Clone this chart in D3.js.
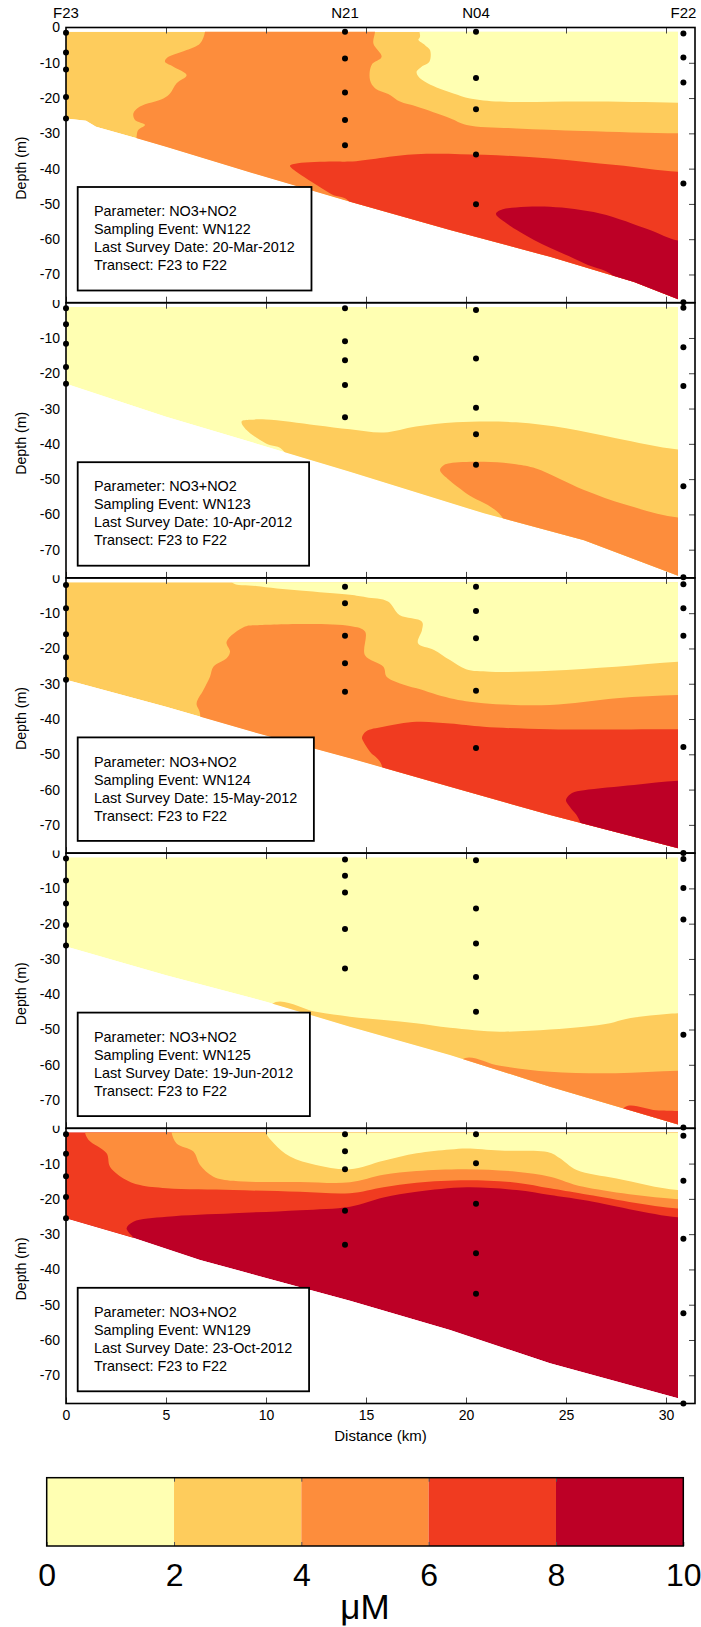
<!DOCTYPE html>
<html>
<head>
<meta charset="utf-8">
<script src="https://cdn.jsdelivr.net/npm/d3@7"></script>
<style>
body{margin:0;background:#fff;}
svg{display:block;font-family:"Liberation Sans",Arial,sans-serif;}
</style>
</head>
<body>
<div id="chart"></div>
<script>
// stations along the transect (km)
const stationNames = ["F23","N21","N04","F22"];
const stationKm = [0, 13.95, 20.5, 30.87];
const xTicks = [0,5,10,15,20,25,30];
const depthTicks = [0,-10,-20,-30,-40,-50,-60,-70];
const levelEdges = [0,2,4,6,8,10];
const levelColors = ["#ffffb2","#fecc5c","#fd8d3c","#f03b20","#bd0026"];
const surfaceDepth = -1.2;

const events = ["WN122","WN123","WN124","WN125","WN129"];
const surveyDates = ["20-Mar-2012","10-Apr-2012","15-May-2012","19-Jun-2012","23-Oct-2012"];

// sample depths per station (F23, N21, N04, F22)
const wn122Casts = [[-1.5,-7.1,-11.9,-19.7,-25.8],[-1.2,-8.8,-18.4,-26.2,-33.4],[-1.2,-14.3,-23.2,-36.0,-50.1],[-1.7,-8.5,-15.6,-44.2,-77.9]];
const wn123Casts = [[-1.6,-6.1,-11.6,-18.2,-23.0],[-1.6,-10.9,-16.3,-23.3,-32.5],[-2.1,-15.8,-29.8,-37.3,-45.9],[-1.4,-12.6,-23.6,-52.0,-77.8]];
const wn124Casts = [[-2.0,-8.6,-16.0,-22.5,-28.9],[-2.5,-7.2,-16.4,-24.2,-32.3],[-2.5,-9.4,-17.1,-32.0,-48.2],[-1.8,-8.6,-16.4,-47.9,-78.0]];
const wn125Casts = [[-1.5,-7.8,-14.3,-20.4,-26.2],[-1.8,-6.4,-11.2,-21.5,-32.7],[-2.0,-15.7,-25.6,-35.1,-45.0],[-1.7,-9.9,-18.8,-51.5,-77.8]];
const wn129Casts = [[-1.7,-7.2,-13.6,-19.5,-25.5],[-1.7,-6.5,-11.6,-23.4,-33.0],[-1.7,-9.9,-21.4,-35.4,-46.9],[-2.1,-14.9,-31.3,-52.4,-78.0]];

// bottom profile [km, depth]
const wn122Bottom = [[0,-25.8],[1.0,-26.4],[1.5,-28.1],[3.5,-31.3],[5.0,-33.8],[9.35,-41.3],[14.2,-49.4],[19.2,-57.4],[24.2,-65.0],[28.4,-72.1],[30.6,-77.0]];
const wn123Bottom = [[0,-23.0],[5.0,-32.3],[10.9,-42.3],[14.2,-47.9],[20.9,-59.7],[25.9,-67.3],[30.6,-77.4]];
const wn124Bottom = [[0,-28.9],[5.0,-36.5],[10.0,-44.7],[14.2,-51.1],[19.2,-59.2],[24.2,-67.2],[30.6,-76.6]];
const wn125Bottom = [[0,-26.5],[5.0,-34.6],[10.0,-42.1],[14.2,-49.2],[19.2,-57.2],[24.2,-66.2],[30.6,-76.9]];
const wn129Bottom = [[0,-25.5],[3.35,-31.0],[6.7,-37.3],[14.2,-48.9],[19.2,-57.2],[24.2,-66.6],[30.6,-76.5]];

// contour bands: [level index, outline in km/depth], painted in order over the base level
const wn122Base = 1;
const wn122Bands = [
  [0, [[17.7,3],[17.7,-2.6],[17.62,-3.5],[17.95,-5.0],[18.2,-6.4],[18.17,-9.7],[17.78,-11.1],[17.53,-12.5],[17.62,-13.9],[17.95,-15.4],[18.53,-17.0],[19.37,-18.7],[20.2,-20.1],[21.7,-21.0],[25.9,-21.0],[30.6,-21.3],[33,-21.3],[33,3]]],
  [2, [[6.95,3],[6.95,-1.2],[6.7,-4.5],[6.03,-6.4],[5.03,-8.7],[4.95,-9.7],[5.37,-11.1],[6.03,-13.5],[5.53,-15.8],[5.2,-18.7],[4.87,-20.1],[3.7,-22.4],[3.37,-24.3],[3.45,-26.2],[3.95,-27.6],[3.62,-29.0],[3.53,-31],[3.53,-95],[33,-95],[33,-30.0],[30.58,-30.0],[25.87,-29.3],[22.53,-28.6],[20.03,-27.6],[19.2,-25.7],[17.53,-22.4],[16.7,-21.0],[16.2,-19.1],[15.45,-17.2],[15.2,-14.9],[15.28,-10.6],[15.78,-8.3],[15.37,-4.5],[15.45,-1.2],[15.45,3]]],
  [3, [[11.2,-39.2],[11.6,-38.5],[13.35,-38.0],[14.2,-38.0],[17.5,-35.9],[20.9,-36.1],[24.2,-37.1],[27.5,-39.0],[30.6,-40.9],[33,-41],[33,-95],[14.8,-95],[14.2,-49.6],[13.3,-47.3],[12.55,-44.7],[11.4,-40.4]]],
  [4, [[21.5,-52.8],[21.8,-51.6],[22.5,-51.0],[24.2,-50.8],[26.7,-52.7],[29.2,-57.4],[30.6,-60.4],[33,-61],[33,-95],[27.8,-95],[27.5,-71.4],[25.9,-66.8],[23.4,-60.2],[21.9,-55.0]]]
];
const wn123Base = 0;
const wn123Bands = [
  [1, [[8.78,-33.7],[9.2,-33.2],[10.0,-33.1],[12.5,-34.7],[14.2,-35.9],[15.9,-36.8],[17.5,-35.1],[19.5,-33.9],[22.5,-33.9],[25.0,-35.6],[27.5,-38.4],[30.6,-41.6],[33,-42],[33,-95],[11.3,-95],[10.9,-42.2],[10.0,-39.9],[9.03,-36.1]]],
  [2, [[18.7,-47.4],[18.9,-46.0],[19.2,-45.5],[20.9,-45.1],[22.5,-45.8],[23.5,-47.0],[25.9,-53.1],[28.0,-57.3],[30.6,-60.9],[33,-61],[33,-95],[22.2,-95],[21.9,-61.6],[20.0,-54.0],[19.0,-49.5]]]
];
const wn124Base = 1;
const wn124Bands = [
  [0, [[8.3,3],[8.3,-1.2],[9.5,-2.3],[11.7,-3.6],[14.2,-4.8],[15.0,-5.5],[16.1,-6.7],[16.67,-10.5],[17.8,-12.4],[17.8,-14.8],[17.6,-18.5],[18.4,-20.4],[19.2,-23.3],[20.0,-25.9],[21.2,-26.6],[24.2,-26.3],[27.5,-25.2],[30.6,-23.8],[33,-23.8],[33,3]]],
  [2, [[8.95,-13.8],[8.03,-18.1],[8.2,-20.9],[8.03,-22.8],[7.37,-25.2],[7.2,-28.0],[6.87,-31.8],[6.53,-35.6],[6.7,-38.4],[6.7,-95],[33,-95],[33,-33.2],[30.58,-33.2],[27.53,-34.1],[24.2,-36.0],[20.87,-35.5],[19.2,-34.1],[17.53,-31.3],[16.7,-29.9],[16.03,-28.0],[15.87,-25.2],[14.95,-21.9],[14.95,-15.2],[14.2,-13.6],[9.5,-13.4]]],
  [3, [[14.8,-45.2],[15.0,-43.5],[15.87,-42.2],[17.53,-40.8],[19.2,-41.3],[20.87,-42.2],[24.2,-42.9],[30.58,-42.9],[33,-43],[33,-95],[16.2,-95],[15.78,-53.0],[15.2,-49.3],[14.87,-46.4]]],
  [4, [[25.0,-63.0],[25.3,-61.0],[25.9,-60.2],[28.4,-58.7],[30.6,-57.5],[33,-57.5],[33,-95],[25.9,-95],[25.7,-69.1],[25.2,-64.9]]]
];
const wn125Base = 0;
const wn125Bands = [
  [1, [[10.3,-42.8],[12.5,-45.0],[14.2,-46.4],[15.9,-47.3],[17.5,-48.2],[19.2,-49.5],[21.7,-50.6],[24.2,-50.0],[25.9,-49.2],[27.2,-48.2],[28.0,-47.0],[29.5,-45.9],[30.6,-45.4],[33,-45.4],[33,-95],[10.3,-95]]],
  [2, [[19.8,-58.6],[21.7,-60.3],[24.2,-62.0],[27.5,-62.4],[30.6,-61.7],[33,-61.7],[33,-95],[19.8,-95]]],
  [3, [[27.9,-72.2],[29.5,-72.9],[30.6,-73.1],[33,-73.2],[33,-95],[27.9,-95]]]
];
const wn129Base = 4;
const wn129Bands = [
  [3, [[-2,3],[33,3],[33,-25.2],[30.58,-25.2],[25.87,-20.3],[24.2,-18.9],[22.53,-17.5],[20.03,-16.7],[17.53,-18.0],[15.87,-19.6],[14.2,-22.2],[11.7,-23.2],[8.37,-24.1],[5.03,-25.1],[3.37,-26.5],[3.03,-28.3],[3.15,-29.6],[3.4,-31.5],[3.4,-95],[-2,-95]]],
  [2, [[0.95,3],[0.95,-1.2],[1.13,-3.3],[2.03,-7.1],[2.2,-10.9],[2.87,-14.2],[3.7,-16.1],[5.03,-17.0],[8.37,-17.5],[11.7,-18.0],[14.2,-18.4],[15.87,-16.7],[17.53,-15.4],[20.03,-14.7],[22.53,-15.4],[24.2,-17.0],[25.87,-18.6],[30.58,-22.7],[33,-22.7],[33,3]]],
  [1, [[5.28,3],[5.28,-1.2],[5.53,-4.3],[6.37,-6.6],[6.7,-10.4],[7.37,-13.7],[8.37,-14.9],[11.7,-15.2],[14.2,-15.3],[15.87,-13.2],[17.53,-12.1],[20.03,-11.6],[22.53,-12.3],[24.2,-13.7],[25.87,-16.6],[30.58,-20.1],[33,-20.1],[33,3]]],
  [0, [[10.0,3],[10.0,-1.2],[10.4,-4.3],[11.2,-8.0],[12.5,-10.4],[14.2,-11.6],[15.87,-9.2],[17.53,-7.1],[19.2,-6.0],[20.03,-5.7],[21.7,-6.3],[24.2,-6.9],[24.7,-8.5],[25.53,-11.8],[27.53,-14.2],[30.58,-17.5],[33,-17.5],[33,3]]]
];

const panels = [
  {casts: wn122Casts, bottom: wn122Bottom, base: wn122Base, bands: wn122Bands},
  {casts: wn123Casts, bottom: wn123Bottom, base: wn123Base, bands: wn123Bands},
  {casts: wn124Casts, bottom: wn124Bottom, base: wn124Base, bands: wn124Bands},
  {casts: wn125Casts, bottom: wn125Bottom, base: wn125Base, bands: wn125Bands},
  {casts: wn129Casts, bottom: wn129Bottom, base: wn129Base, bands: wn129Bands}
];

const W = 701, H = 1627;
const left = 66, right = 695, top0 = 27.5, panelH = 275.2;

const svg = d3.select("#chart").append("svg")
  .attr("width", W).attr("height", H);
const defs = svg.append("defs");

const x = d3.scaleLinear().domain([0, 31.45]).range([left, right]);

// station names above the first panel
svg.selectAll(null)
  .data(stationNames)
  .enter()
  .append("text")
  .attr("x", (d,i) => x(stationKm[i]))
  .attr("y", 18)
  .attr("text-anchor", "middle")
  .style("font-size", "15px")
  .text(d => d);

panels.forEach(function(p, i){
  const top = top0 + i * panelH;
  const y = d3.scaleLinear().domain([-78, 0]).range([top + panelH, top]);
  const g = svg.append("g");

  const water = d3.area()
    .x(d => x(d[0]))
    .y0(y(surfaceDepth))
    .y1(d => y(d[1]));
  const outline = d3.line()
    .x(d => x(d[0])).y(d => y(d[1]))
    .curve(d3.curveCatmullRomClosed.alpha(0.5));

  defs.append("clipPath").attr("id", "water" + i)
    .append("path").attr("d", water(p.bottom));
  defs.append("clipPath").attr("id", "lab" + i)
    .append("rect").attr("x", 0).attr("y", i == 0 ? 0 : top - 2.6).attr("width", left).attr("height", panelH + 30);

  // filled contours
  const fill = g.append("g").attr("clip-path", "url(#water" + i + ")");
  fill.append("path").attr("d", water(p.bottom)).attr("fill", levelColors[p.base]);
  fill.selectAll(null)
    .data(p.bands)
    .enter()
    .append("path")
    .attr("d", d => outline(d[1]))
    .attr("fill", d => levelColors[d[0]]);

  // ticks
  g.append("g")
    .attr("transform", "translate(0," + top + ")")
    .call(d3.axisTop(x).tickValues(xTicks.slice(1)).tickSize(-6).tickFormat(""))
    .call(a => a.select(".domain").remove())
    .selectAll("line").attr("stroke", "#444");
  const bx = g.append("g")
    .attr("transform", "translate(0," + (top + panelH) + ")")
    .call(d3.axisBottom(x).tickValues(xTicks).tickSize(-6).tickPadding(6.5)
      .tickFormat(i == panels.length - 1 ? (d => String(d)) : ""))
    .call(a => a.select(".domain").remove());
  bx.selectAll("line").attr("stroke", "#444");
  bx.selectAll("text").style("font-size", "14px").attr("fill", "#000")
    .style("font-family", "'Liberation Sans',Arial,sans-serif");
  g.append("g")
    .attr("transform", "translate(" + right + ",0)")
    .call(d3.axisRight(y).tickValues(depthTicks.slice(1)).tickSize(-6).tickFormat(""))
    .call(a => a.select(".domain").remove())
    .selectAll("line").attr("stroke", "#444");

  // depth labels
  const yl = g.append("g")
    .attr("clip-path", "url(#lab" + i + ")")
    .append("g")
    .attr("transform", "translate(" + left + ",0)")
    .call(d3.axisLeft(y).tickValues(depthTicks).tickSize(0).tickPadding(6).tickFormat(d => String(d)))
    .call(a => a.select(".domain").remove());
  yl.selectAll("text").style("font-size", "14px").attr("fill", "#000")
    .style("font-family", "'Liberation Sans',Arial,sans-serif");

  g.append("text")
    .attr("transform", "translate(25.5," + (top + panelH / 2 + 3) + ") rotate(-90)")
    .attr("text-anchor", "middle")
    .style("font-size", "14.2px")
    .text("Depth (m)");

  // box
  g.append("rect")
    .attr("x", left).attr("y", top)
    .attr("width", right - left).attr("height", panelH)
    .attr("fill", "none").attr("stroke", "#000").attr("stroke-width", 1.6);

  // info box
  const info = ["Parameter: NO3+NO2", "Sampling Event: " + events[i], "Last Survey Date: " + surveyDates[i], "Transect: F23 to F22"];
  const ib = g.append("g").attr("transform", "translate(77.7," + (top + 159.5) + ")");
  const ibRect = ib.append("rect").attr("height", 103.5)
    .attr("fill", "#fff").attr("stroke", "#000").attr("stroke-width", 1.8);
  const lines = ib.selectAll(null)
    .data(info)
    .enter()
    .append("text")
    .attr("x", 16.3)
    .attr("y", (d,k) => 29.3 + 18 * k)
    .style("font-size", "14.4px")
    .text(d => d);
  let maxLen = 0;
  lines.each(function(){ maxLen = Math.max(maxLen, this.getComputedTextLength()); });
  ibRect.attr("width", maxLen + 33);

  // sampling points
  stationKm.forEach(function(km, s){
    g.selectAll(null)
      .data(p.casts[s])
      .enter()
      .append("circle")
      .attr("cx", x(km))
      .attr("cy", d => y(d))
      .attr("r", 3)
      .attr("fill", "#000");
  });
});

svg.append("text")
  .attr("x", (left + right) / 2)
  .attr("y", 1440.7)
  .attr("text-anchor", "middle")
  .style("font-size", "15px")
  .text("Distance (km)");

// colour bar
const cx = d3.scaleLinear().domain([0, 10]).range([46.7, 683.3]);
const cbTop = 1477.7, cbBot = 1546;
const cb = svg.append("g");
cb.selectAll(null)
  .data(levelColors)
  .enter()
  .append("rect")
  .attr("x", (d,k) => cx(levelEdges[k]))
  .attr("y", cbTop)
  .attr("width", (d,k) => cx(levelEdges[k + 1]) - cx(levelEdges[k]))
  .attr("height", cbBot - cbTop)
  .attr("fill", d => d);
cb.append("g")
  .attr("transform", "translate(0," + cbTop + ")")
  .call(d3.axisTop(cx).tickValues(levelEdges.slice(1, -1)).tickSize(-4).tickFormat(""))
  .call(a => a.select(".domain").remove())
  .selectAll("line").attr("stroke", "#555");
const cba = cb.append("g")
  .attr("transform", "translate(0," + cbBot + ")")
  .call(d3.axisBottom(cx).tickValues(levelEdges).tickSize(-4).tickPadding(17).tickFormat(d => String(d)))
  .call(a => a.select(".domain").remove());
cba.selectAll("line").attr("stroke", "#555");
cba.selectAll("text").style("font-size", "32px").attr("fill", "#000")
  .style("font-family", "'Liberation Sans',Arial,sans-serif");
cb.append("rect")
  .attr("x", cx(0)).attr("y", cbTop)
  .attr("width", cx(10) - cx(0)).attr("height", cbBot - cbTop)
  .attr("fill", "none").attr("stroke", "#000").attr("stroke-width", 1.5);
cb.append("text")
  .attr("x", cx(5))
  .attr("y", 1619)
  .attr("text-anchor", "middle")
  .style("font-size", "35px")
  .text("μM");
</script>
</body>
</html>
